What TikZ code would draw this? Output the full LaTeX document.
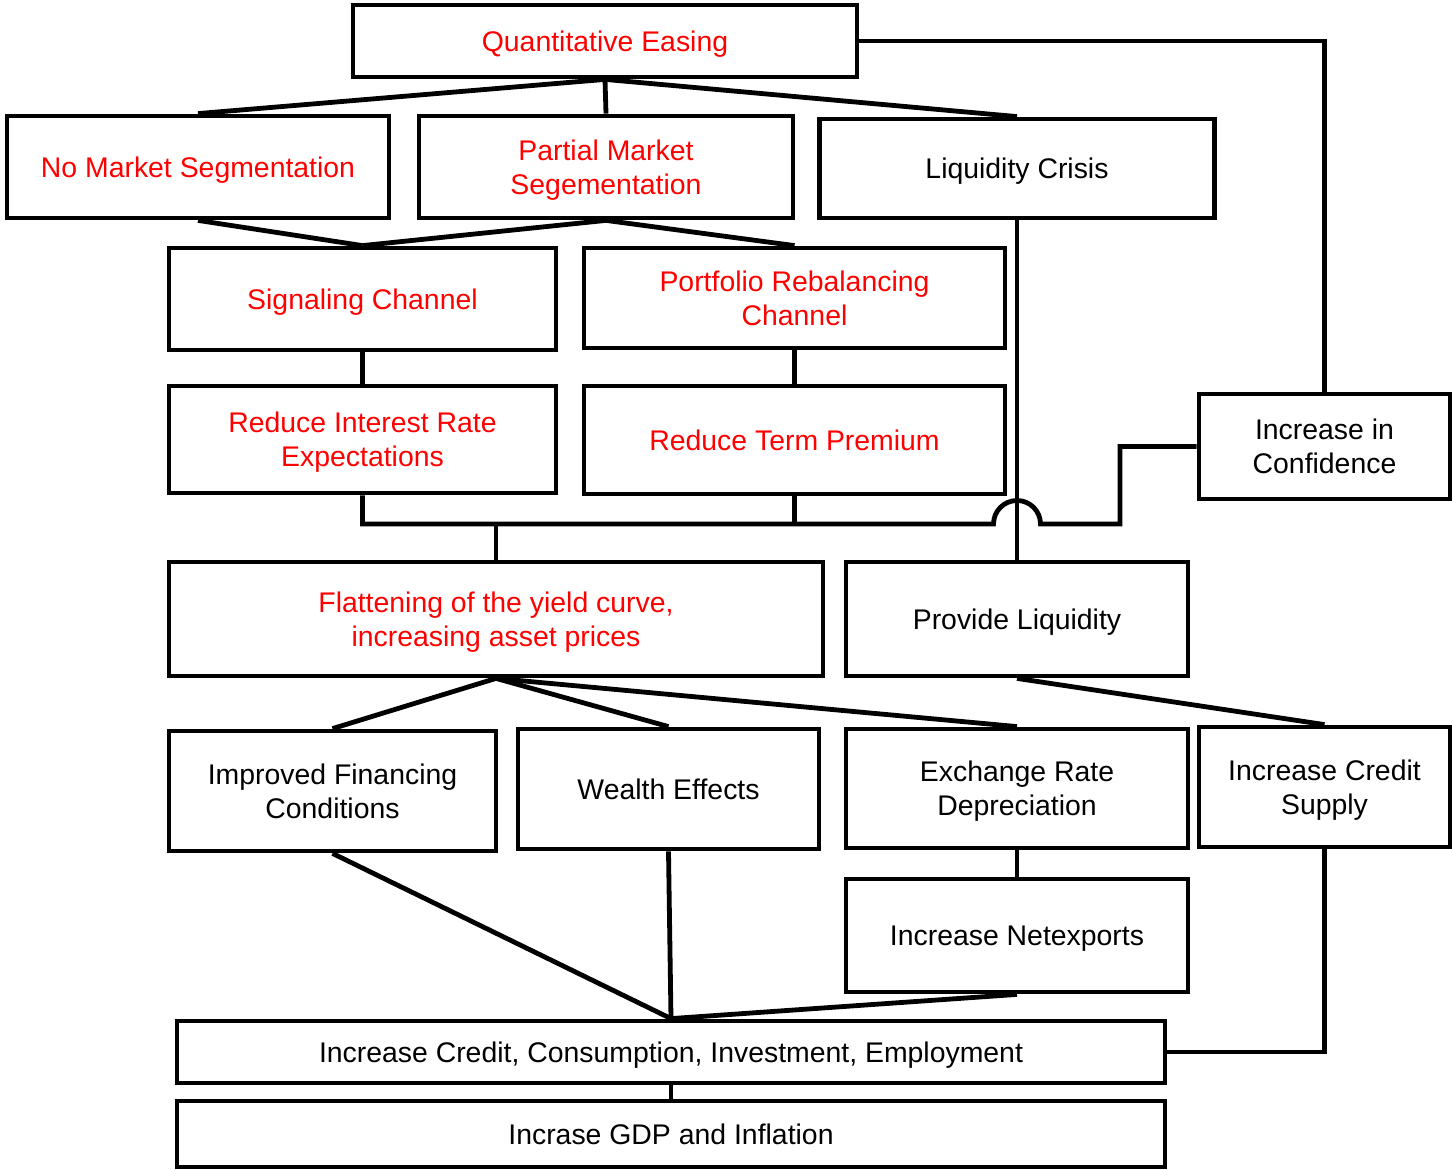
\documentclass[tikz,border=0pt]{standalone}
\usepackage{fontspec}
\setmainfont{Liberation Sans}
\usetikzlibrary{calc}
\definecolor{qred}{RGB}{255,0,0}
\tikzset{
  box/.style={draw=black, line width=4.8pt, align=center, inner sep=0pt,
    font=\fontsize{28.4}{34}\selectfont, text=black,
    text height=20.3pt, text depth=0pt},
  redbox/.style={box, text=qred},
  two/.style={text height=54.3pt, text depth=0pt},
  link/.style={draw=black, line width=4.8pt, line join=miter}
}
\begin{document}
\begin{tikzpicture}[x=1pt, y=-1pt]
\useasboundingbox (0,0) rectangle (1452,1170);
% nodes
\node[redbox, minimum width=504, minimum height=72] (qe) at (605,41) {Quantitative Easing};
\node[redbox, minimum width=382, minimum height=102] (nms) at (198,167) {No Market Segmentation};
\node[redbox, two, minimum width=374, minimum height=102] (pms) at (606,167) {Partial Market\\Segementation};
\node[box, minimum width=395, minimum height=99] (lc) at (1017,168.5) {Liquidity Crisis};
\node[redbox, minimum width=387, minimum height=102] (sig) at (362.5,299) {Signaling Channel};
\node[redbox, two, minimum width=421, minimum height=100] (prc) at (794.5,298) {Portfolio Rebalancing\\Channel};
\node[redbox, two, minimum width=387, minimum height=107] (rir) at (362.5,439.5) {Reduce Interest Rate\\Expectations};
\node[redbox, minimum width=421, minimum height=108] (rtp) at (794.5,440) {Reduce Term Premium};
\node[box, two, minimum width=251, minimum height=105] (iic) at (1324.5,446.5) {Increase in\\Confidence};
\node[redbox, two, minimum width=654, minimum height=114] (flat) at (496,619) {Flattening of the yield curve,\\increasing asset prices};
\node[box, minimum width=342, minimum height=114] (pl) at (1017,619) {Provide Liquidity};
\node[box, two, minimum width=327, minimum height=120] (ifc) at (332.5,791) {Improved Financing\\Conditions};
\node[box, minimum width=301, minimum height=120] (we) at (668.5,789) {Wealth Effects};
\node[box, two, minimum width=342, minimum height=119] (erd) at (1017,788.5) {Exchange Rate\\Depreciation};
\node[box, two, minimum width=251, minimum height=120] (ics) at (1324.5,787) {Increase Credit\\Supply};
\node[box, minimum width=342, minimum height=113] (ine) at (1017,935.5) {Increase Netexports};
\node[box, minimum width=988, minimum height=62] (icc) at (671,1052) {Increase Credit, Consumption, Investment, Employment};
\node[box, minimum width=988, minimum height=66] (gdp) at (671,1134) {Incrase GDP and Inflation};
\coordinate (bus) at (0,524);
% connectors
\draw[link] (qe.south) -- (nms.north);
\draw[link] (qe.south) -- (pms.north);
\draw[link] (qe.south) -- (lc.north);
\draw[link] (qe.east) -| (iic.north);
\draw[link] (nms.south) -- (sig.north);
\draw[link] (pms.south) -- (sig.north);
\draw[link] (pms.south) -- (prc.north);
\draw[link] (sig.south) -- (rir.north);
\draw[link] (prc.south) -- (rtp.north);
\draw[link] (lc.south) -- (pl.north);
\draw[link] (rir.south) -- (rir.south |- bus) -- ($(lc.south |- bus)+(-23.5,0)$)
  arc[start angle=180, end angle=360, radius=23.5] -- (1120,524) |- (iic.west);
\draw[link] (rtp.south) -- (rtp.south |- bus);
\draw[link] (flat.north) -- (flat.north |- bus);
\draw[link] (flat.south) -- (ifc.north);
\draw[link] (flat.south) -- (we.north);
\draw[link] (flat.south) -- (erd.north);
\draw[link] (pl.south) -- (ics.north);
\draw[link] (erd.south) -- (ine.north);
\draw[link] (ifc.south) -- (icc.north);
\draw[link] (we.south) -- (icc.north);
\draw[link] (ine.south) -- (icc.north);
\draw[link] (ics.south) |- (icc.east);
\draw[link] (icc.south) -- (gdp.north);
\end{tikzpicture}
\end{document}
